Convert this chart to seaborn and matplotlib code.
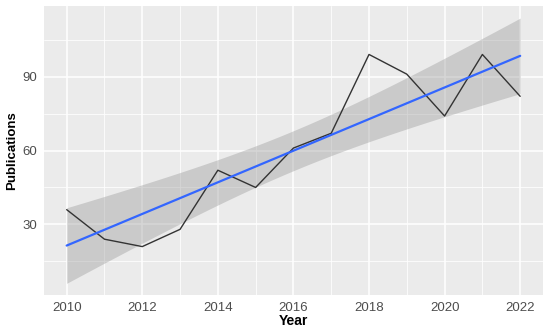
import numpy as np
import pandas as pd
import matplotlib
matplotlib.use("Agg")
import matplotlib.pyplot as plt
import seaborn as sns

years = [2010, 2011, 2012, 2013, 2014, 2015, 2016, 2017, 2018, 2019, 2020, 2021, 2022]
publications = [36, 24, 21, 28, 52, 45, 61, 67, 99, 91, 74, 99, 82]
x_ticks = [2010, 2012, 2014, 2016, 2018, 2020, 2022]
y_ticks = [30, 60, 90]

df = pd.DataFrame({"Year": years, "Publications": publications})

sns.set_theme(style="darkgrid")
plt.rcParams["font.family"] = ["Liberation Sans", "DejaVu Sans"]

fig = plt.figure(figsize=(5.5, 3.29), dpi=100)
ax = fig.add_axes([0.08, 0.103, 0.907, 0.879])
ax.set_facecolor("#EBEBEB")

# analytic 95% confidence band for linear fit (like geom_smooth(method='lm'))
x = np.array(years, dtype=float)
y = np.array(publications, dtype=float)
n = len(x)
b, a = np.polyfit(x, y, 1)
xs = np.linspace(x.min(), x.max(), 200)
fit = a + b * xs
resid = y - (a + b * x)
s = np.sqrt(np.sum(resid ** 2) / (n - 2))
sxx = np.sum((x - x.mean()) ** 2)
tval = 2.200985
se = s * np.sqrt(1.0 / n + (xs - x.mean()) ** 2 / sxx)
ax.fill_between(xs, fit - tval * se, fit + tval * se, color="#999999", alpha=0.4, linewidth=0, zorder=2)

sns.lineplot(data=df, x="Year", y="Publications", ax=ax, color="#333333", linewidth=1.0, zorder=3)
sns.regplot(data=df, x="Year", y="Publications", ax=ax, scatter=False, ci=None,
            line_kws=dict(color="#3366FF", linewidth=1.6, zorder=4))

ax.set_xlim(2009.4, 2022.6)
ax.set_ylim(1.3, 118.7)
ax.set_xticks(x_ticks)
ax.set_yticks(y_ticks)
ax.set_xticks([2011, 2013, 2015, 2017, 2019, 2021], minor=True)
ax.set_yticks([15, 45, 75, 105], minor=True)
ax.grid(which="major", color="white", linewidth=1.1)
ax.grid(which="minor", color="white", linewidth=0.55)
ax.set_axisbelow(True)
for sp in ax.spines.values():
    sp.set_visible(False)

ax.tick_params(axis="both", which="major", length=2.75, width=0.8, color="#333333",
               labelcolor="#4D4D4D", labelsize=9.5, pad=2)
ax.tick_params(axis="both", which="minor", length=0)
ax.set_xlabel("Year", fontsize=10, fontweight="bold", color="black", labelpad=0)
ax.set_ylabel("Publications", fontsize=9.5, fontweight="bold", color="black", labelpad=3)

fig.savefig("out.png", dpi=100)
